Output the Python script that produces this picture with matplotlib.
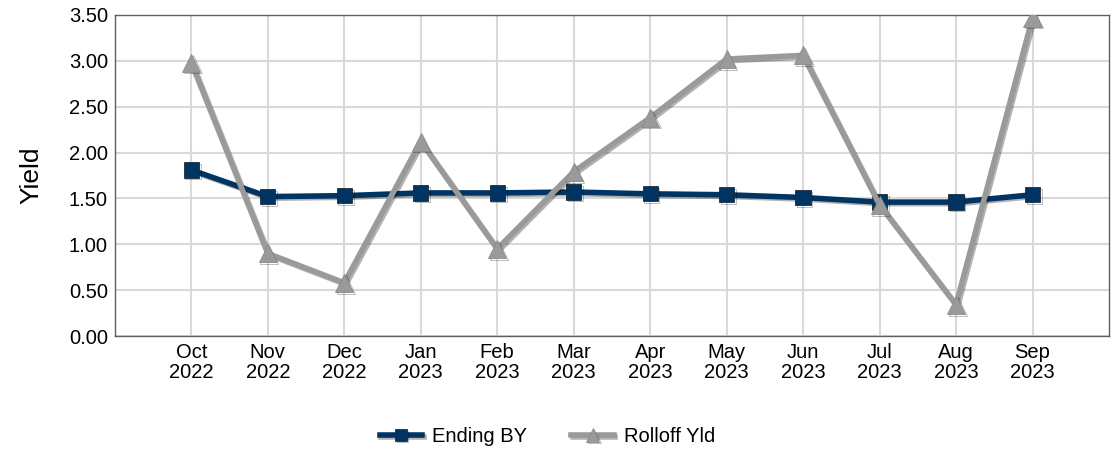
import matplotlib
matplotlib.use("Agg")
import matplotlib.pyplot as plt
import matplotlib.patheffects as pe

plt.rcParams['font.family'] = ['Liberation Sans', 'DejaVu Sans']

months = ["Oct\n2022", "Nov\n2022", "Dec\n2022", "Jan\n2023", "Feb\n2023", "Mar\n2023",
          "Apr\n2023", "May\n2023", "Jun\n2023", "Jul\n2023", "Aug\n2023", "Sep\n2023"]
ending_by = [1.81, 1.52, 1.53, 1.56, 1.56, 1.57, 1.55, 1.54, 1.51, 1.46, 1.46, 1.54]
rolloff_yld = [2.98, 0.90, 0.58, 2.12, 0.95, 1.79, 2.38, 3.02, 3.06, 1.43, 0.34, 3.47]
yticks = [0, 0.5, 1.0, 1.5, 2.0, 2.5, 3.0, 3.5]

fig = plt.figure(figsize=(11.15, 4.5), dpi=100)
ax = fig.add_axes([0.103, 0.2533, 0.8916, 0.7134])

x = list(range(len(months)))
shadow = [pe.SimpleLineShadow(offset=(1.2, -1.2), shadow_color='black', alpha=0.3), pe.Normal()]

ax.plot(x, ending_by, color='#003462', lw=4, marker='s', ms=11,
        markeredgecolor='#1a2a3a', markeredgewidth=0.6, label='Ending BY',
        path_effects=shadow, zorder=3)
ax.plot(x, rolloff_yld, color='#9a9a9a', lw=4, marker='^', ms=13,
        markeredgecolor='#8a8a8a', markeredgewidth=0.6, label='Rolloff Yld',
        path_effects=shadow, zorder=4)

ax.set_xlim(-1, len(months))
ax.set_ylim(0, 3.5)
ax.set_yticks(yticks)
ax.set_yticklabels([f"{v:.2f}" for v in yticks])
ax.set_xticks(x)
ax.set_xticklabels(months, linespacing=1.1)
ax.tick_params(axis='both', labelsize=14.5, length=0, colors='black')
ax.tick_params(axis='x', pad=5)
ax.tick_params(axis='y', pad=5)
ax.grid(True, color='#d9d9d9', lw=1.5)
ax.set_axisbelow(True)
for s in ax.spines.values():
    s.set_color('#606060')
    s.set_linewidth(1)

ax.set_ylabel('Yield', fontsize=19, labelpad=18)

leg = fig.legend(loc='center', bbox_to_anchor=(0.491, 0.03), ncol=2, frameon=False,
                 fontsize=14.5, handlelength=2.1, handletextpad=0.5,
                 columnspacing=2.2, markerscale=0.75)

fig.savefig('out.png', dpi=100)
